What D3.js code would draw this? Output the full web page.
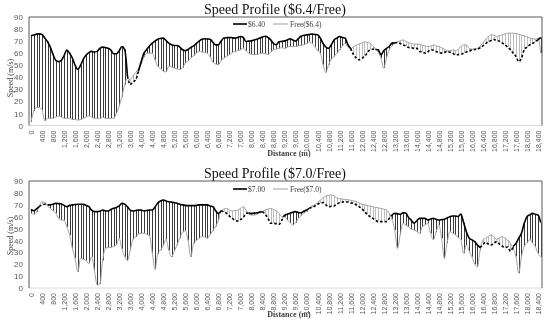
<!DOCTYPE html>
<html>
<head>
<meta charset="utf-8">
<script src="https://cdn.jsdelivr.net/npm/d3@7"></script>
<style>
  body { margin: 0; background: #fff; }
  svg { display: block; font-family: "Liberation Serif", "Times New Roman", serif; will-change: transform; }
  svg text { -webkit-font-smoothing: antialiased; }
</style>
</head>
<body>
<svg id="chart" width="550" height="325"></svg>
<script>
// distance categories (m), one reading every 100 m
const distances = d3.range(0, 18501, 100);
const xTicks = d3.range(0, 18401, 400);
const yTicks = [0, 10, 20, 30, 40, 50, 60, 70, 80, 90];

const seriesNames1 = ["$6.40", "Free($6.4)"];
const seriesNames2 = ["$7.00", "Free($7.0)"];

const speed640 = [74.4,75,75.8,76,75.5,72.5,69.5,65,59,54,
  53,54,58,62.5,60,56,50,46.5,50,55,
  58.5,60.5,61.5,61,61.5,64,65,64.7,64,62.5,
  59.5,59.5,62,65.5,63,41,34,36,38,45,
  53,60,63,66,68.3,70,71.6,72.2,72.5,70.5,
  68.3,67,66.4,66.4,65,62.8,62,63,64.7,66,
  68,70,71.5,71.9,71.8,71.6,69,66.9,66.9,70,
  72.5,72.8,73,72.8,72.5,73,73.8,73,69.7,70,
  70.2,71,71.6,72.5,73.4,74,73,71,68,67,
  69.4,69.8,70.2,71,71.9,71,70,72,74,74.8,
  75.2,75.5,75.8,75.5,75.2,72.5,68,65,64,67,
  71,72.5,73.8,73,72.5,67,64,59,56,54.5,
  55.5,57.3,60,62.8,63.3,63,62.8,58.7,62,64,
  65.5,68.3,68.5,68.8,68,66.9,66,64.7,64.5,64,
  64,61.4,61,60,61,62.8,62.5,61.4,60.5,60,
  60.5,61.4,60.8,60,58.7,58.8,59,60,61,61.4,
  62.8,63,63.3,64.5,66,68,69.4,70.5,71.3,70.5,
  70,68.5,66.9,65,62.8,60,57.3,53,55.9,62.8,
  65,66.9,68,69.4,71.3,73];

const free640 = [3,12,15,15,13,4,6,6,6,7,
  8,7,6,6,6,5,5,4.5,5,6,
  7,8,7,6,6,6,7,6,5.8,6,
  6,10,16,24,34,39,38,41,44,47,
  51,57,60,60,60,54.5,49,47,45,44.5,
  49,48.5,47.6,47,46.3,48,51.8,53.5,55.9,58,
  60,61.4,61,60.5,60,57,52.5,51,50.4,54,
  55.9,57.5,58.7,60.5,61.4,62,62.8,64.1,62,60,
  59,58.7,59,59.5,60,59.5,59,61,62.8,63.5,
  64,64.5,64,65,65.5,65.5,65.5,66,66.5,67,
  68,69.4,68,65.5,62,60,50.4,44,50.4,55,
  57.3,60,62.8,66,68,65,63.5,65.5,66.5,67.5,
  68.5,69.4,69,68.3,66,64,61,56,47.7,55.9,
  62.8,66,68.3,69.5,70.2,71,70,68.8,68,67.5,
  67.5,67.5,66.5,66,65.5,65.8,66.9,66,65.5,64.5,
  63.3,62,62,62.8,62,63,65.5,66.9,66.9,64,
  63.3,63.5,64,66,68.3,71.5,73.8,75.2,75,73.8,
  74.5,75.2,76,76.6,76.6,76.6,76.3,75.8,75,74.4,
  73.5,72.5,72,71.6,72.5,60];

const speed700 = [66,65,66.5,68.4,70,70.4,70,69.9,70.5,71.2,
  71,70.7,69.5,68.4,69.5,69.9,70.2,70.4,70.4,70.4,
  69.5,68.4,65.5,64.2,64.2,64.5,65.6,65,64.8,66,
  67,67.8,69,71.2,70.5,68.4,65.5,64.8,65.2,65.6,
  65.5,65,65.2,65.6,65.6,68,71.5,73.2,74,73.2,
  72.6,72.2,71.8,71.3,70.5,69.9,69.5,69.3,69.3,69.3,
  69.5,69.9,69.9,69.9,69.9,69,68.4,65,62.8,65,
  64,62.8,60.5,58.6,57,56.4,57.5,59,62.8,63,
  62.8,63,63.3,63.8,64.2,62,58.6,54.4,54.4,54,
  53.5,57,61.4,62,62.8,63.8,64.2,63.5,63.3,64.5,
  65.6,67,67.8,69,70.4,71.5,71.8,70,68.4,68.7,
  69,70.5,71.8,72.2,72.6,72.3,71.5,71.2,70,68.4,
  67,64.2,62,60,58.6,57,55.8,55.8,55.8,55.8,
  58.5,61.4,62.8,62.5,62,63.3,63,59.4,57,54.4,
  56.5,58.6,58.6,58.6,57.2,58,58.6,57.8,57.2,57.5,
  57.8,59,60,60.5,60.6,60.2,62.2,55,47.4,42,
  40.5,39,36.2,34,36.5,38.5,36.8,36.2,37.5,39,
  37,35.3,34,34.5,31,35,37.5,42,46,54.4,
  60,61.5,62.8,62,61.4,55];

const free700 = [63,62,64,69,72.6,72,69,67,65,62.8,
  58.6,57.2,57,51.6,44.5,33.4,25,13.7,25,24,
  23.1,20.7,26.3,15,2.5,3.4,23.1,33.4,34,34.2,
  35,36.2,41.8,33,26.3,23.1,31.8,40.9,43,45.4,
  46,46.2,45,44,29.8,15.7,28.6,32,35.6,40.9,
  31.8,26.3,31,36.2,42,47,48.2,40,26.3,37.5,
  40,41.8,43.2,43,41.8,45,48.2,52,56.7,65,
  66.5,67,65.5,64.8,65.2,65.6,67,68.4,65.6,62,
  61.4,61.4,62,63.5,64.5,65.6,66.5,67,66,65,
  62.8,60,60,57.2,55,53,55,58.6,61,63,
  64.2,67.2,69,70,72,74,76,77.4,78,78.3,
  77.5,75.7,75,74.8,74.5,74.3,73.8,73.2,72.9,71.5,
  70.5,70,69.4,68.8,68.4,67.8,67.4,67,66.3,65.6,
  63,58,48.8,33.4,44.9,54.4,53,51.5,49.5,48.8,
  47.5,46,51.5,53,54.4,46,40.6,47,53,42,
  25,37.8,47.4,46,44.9,42.5,40.6,29.2,36.2,31,
  26.3,20,17.9,32,40.6,41.8,43.5,44.6,43,41,
  42,43.2,42,40.4,37.5,33,26.6,12.4,26.3,35,
  38,40.6,38,35,29.2,26.3];

const svg = d3.select("#chart");
const left = 29, right = 542;
const x = d3.scaleLinear().domain([0, 18400]).range([31, 538]);

const panels = [
  { title: "Speed Profile ($6.4/Free)", names: seriesNames1, a: speed640, f: free640,
    top: 17, bottom: 125.5, titleY: 13.5, legendY: 24, yTitleY: 78, xTitleY: 156 },
  { title: "Speed Profile ($7.0/Free)", names: seriesNames2, a: speed700, f: free700,
    top: 181, bottom: 288, titleY: 178, legendY: 189, yTitleY: 236, xTitleY: 317 }
];

// split a series into runs: solid where it sits above the free-flow line, dashed below
function runs(a, f) {
  const out = [];
  let cur = null;
  for (let i = 0; i < a.length - 1; i++) {
    const solid = (a[i] + a[i + 1]) >= (f[i] + f[i + 1]);
    if (!cur || cur.solid !== solid) {
      cur = { solid: solid, idx: [i] };
      out.push(cur);
    }
    cur.idx.push(i + 1);
  }
  return out;
}

panels.forEach(p => {
  const g = svg.append("g");
  const y = d3.scaleLinear().domain([0, 90]).range([p.bottom, p.top]);

  g.append("text").attr("x", 275).attr("y", p.titleY).attr("text-anchor", "middle")
    .attr("font-size", 14).attr("fill", "#111").text(p.title);

  // high-low lines between the two series
  g.append("g").selectAll("line").data(distances).join("line")
    .attr("x1", d => Math.round(x(d)) + 0.5).attr("x2", d => Math.round(x(d)) + 0.5)
    .attr("y1", (d, i) => y(p.a[i])).attr("y2", (d, i) => y(p.f[i]))
    .attr("stroke", (d, i) => p.a[i] >= p.f[i] ? "#3a3a3a" : "#bdbdbd")
    .attr("stroke-width", 1);

  const lineOf = vals => d3.line().x(i => x(distances[i])).y(i => y(vals[i])).curve(d3.curveMonotoneX);

  g.append("path").attr("d", lineOf(p.f)(distances.map((d, i) => i)))
    .attr("fill", "none").attr("stroke", "#a0a0a0").attr("stroke-width", 1);

  runs(p.a, p.f).forEach(r => {
    g.append("path").attr("d", lineOf(p.a)(r.idx))
      .attr("fill", "none").attr("stroke", "#000").attr("stroke-width", 1.6)
      .attr("stroke-dasharray", r.solid ? null : "2.5,2");
  });

  // frame
  g.append("line").attr("x1", left).attr("x2", right).attr("y1", p.bottom).attr("y2", p.bottom)
    .attr("stroke", "#d9d9d9").attr("stroke-width", 1);
  g.append("path").attr("d", `M${left},${p.bottom}V${p.top}H${right}V${p.bottom}`)
    .attr("fill", "none").attr("stroke", "#595959").attr("stroke-width", 1);

  // y axis
  const ya = g.append("g").attr("transform", `translate(${left},0)`)
    .call(d3.axisLeft(y).tickValues(yTicks).tickSize(0).tickPadding(6));
  ya.select(".domain").remove();
  ya.selectAll("text").attr("font-family", null).attr("font-size", 8).attr("fill", "#595959");

  g.append("text").attr("transform", `translate(10,${p.yTitleY}) rotate(-90)`)
    .attr("text-anchor", "middle").attr("dominant-baseline", "central")
    .attr("font-size", 8).attr("fill", "#404040").text("Speed (m/s)");

  // x axis with rotated labels
  const xa = g.append("g").attr("transform", `translate(0,${p.bottom})`)
    .call(d3.axisBottom(x).tickValues(xTicks).tickSize(0).tickFormat(d3.format(",")));
  xa.select(".domain").remove();
  xa.selectAll("text").attr("font-family", null).attr("font-size", 7).attr("fill", "#595959")
    .attr("transform", "rotate(-90)").attr("text-anchor", "end")
    .attr("x", -5).attr("y", 0).attr("dy", "0.35em");

  g.append("text").attr("x", 289).attr("y", p.xTitleY).attr("text-anchor", "middle")
    .attr("font-size", 8).attr("font-weight", "bold").attr("fill", "#404040").text("Distance (m)");

  // legend
  const lg = g.append("g").attr("transform", `translate(0,${p.legendY})`);
  lg.append("line").attr("x1", 233).attr("x2", 247).attr("stroke", "#000").attr("stroke-width", 1.6);
  lg.append("text").attr("x", 248).attr("dy", "0.35em").attr("font-size", 7.5)
    .attr("fill", "#404040").text(p.names[0]);
  lg.append("line").attr("x1", 273).attr("x2", 288).attr("stroke", "#a0a0a0").attr("stroke-width", 1);
  lg.append("text").attr("x", 290).attr("dy", "0.35em").attr("font-size", 7.5)
    .attr("fill", "#404040").text(p.names[1]);
});
</script>
</body>
</html>
